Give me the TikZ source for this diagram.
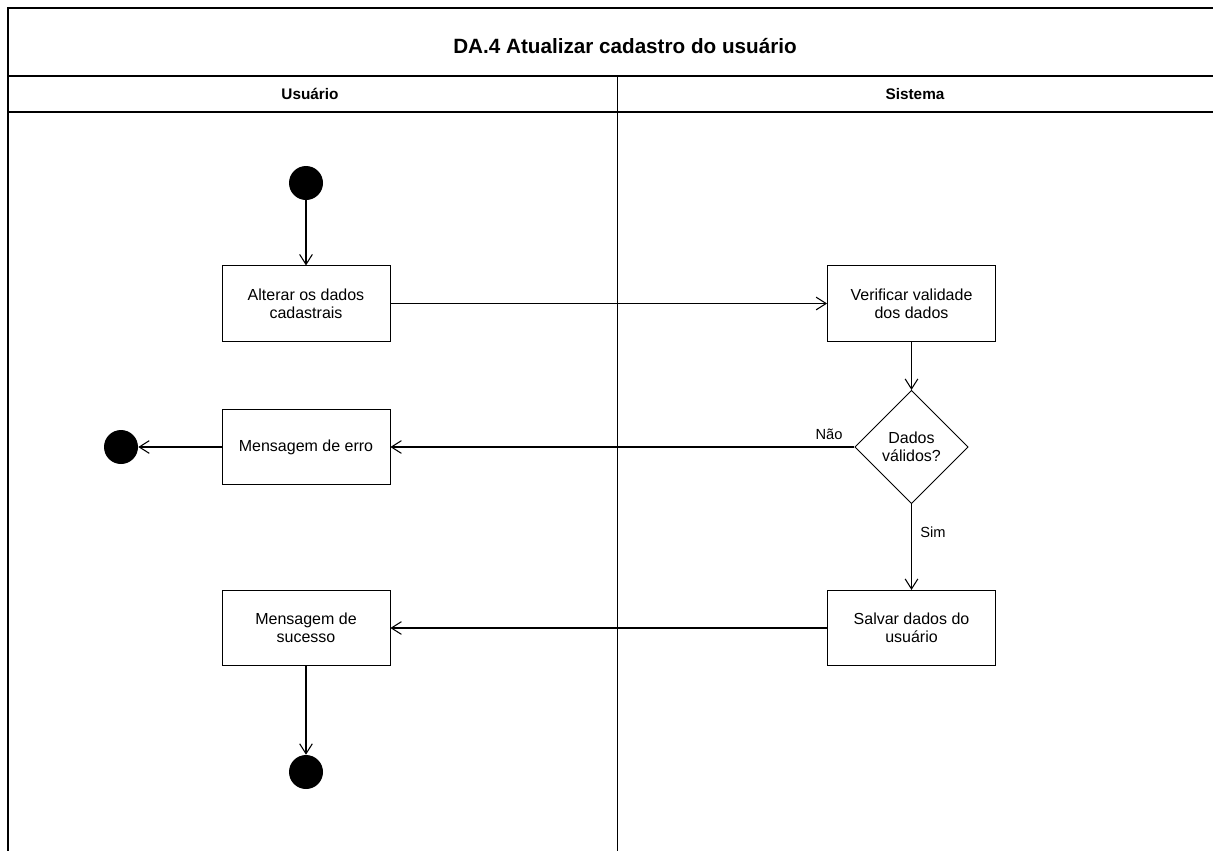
\documentclass[tikz,border=0pt]{standalone}
\usepackage{fontspec}
\setmainfont{Liberation Sans}
\usetikzlibrary{shapes.geometric,arrows.meta}

\begin{document}
\begin{tikzpicture}[x=0.75pt,y=0.75pt,yscale=-1,xscale=1,
	acao/.style={draw,line width=0.6pt,minimum width=126pt,minimum height=56.5pt,inner sep=1pt,align=center,font=\fontsize{12}{13.5}\selectfont},
	decisao/.style={draw,diamond,line width=0.6pt,minimum size=85pt,inner sep=0pt,align=center,font=\fontsize{12}{13.5}\selectfont},
	ponto/.style={circle,fill=black,minimum size=25.5pt,inner sep=0pt},
	fluxo/.style={line width=0.8pt,-{Straight Barb[length=7.5pt,width=9.5pt]}},
	rotulo/.style={inner sep=0.75pt,font=\fontsize{11}{13}\selectfont}]
\useasboundingbox (0,0) rectangle (1213,851);

%Shape: Frame
\draw [line width=0.8pt] (1213,8) -- (8,8) -- (8,851) ;
\draw [line width=0.8pt] (8,76) -- (1213,76) ;
\draw [line width=0.8pt] (8,112) -- (1213,112) ;
\draw [line width=0.6pt] (617,76) -- (617,851) ;

% Text Node
\node (titulo) at (625,46) [font=\fontsize{15.5}{18}\selectfont\bfseries] {DA.4 Atualizar cadastro do usuário};
\node (usuario) at (310,94) [font=\fontsize{11.5}{13}\selectfont\bfseries] {Usuário};
\node (sistema) at (915,94) [font=\fontsize{11.5}{13}\selectfont\bfseries] {Sistema};

%Shape: Circle
\node (inicio) at (306,183) [ponto] {};
\node (fimerro) at (121,447) [ponto] {};
\node (fim) at (306,772) [ponto] {};

%Shape: Rectangle
\node (alterar) at (306,303.5) [acao] {Alterar os dados\\cadastrais};
\node (verificar) at (911.5,303.5) [acao] {Verificar validade\\dos dados};
\node (erro) at (306,447) [acao] {Mensagem de erro};
\node (salvar) at (911.5,628) [acao] {Salvar dados do\\usuário};
\node (sucesso) at (306,628) [acao] {Mensagem de\\sucesso};

%Shape: Diamond
\node (validos) at (911.5,447) [decisao] {Dados\\válidos?};

%Straight Lines
\draw [fluxo] (inicio) -- (alterar) ;
\draw [fluxo] (alterar) -- (verificar) ;
\draw [fluxo] (verificar) -- (validos) ;
\draw [fluxo] (validos) -- (erro) ;
\draw [fluxo] (erro) -- (fimerro) ;
\draw [fluxo] (validos) -- (salvar) ;
\draw [fluxo] (salvar) -- (sucesso) ;
\draw [fluxo] (sucesso) -- (fim) ;

% Text Node
\node (nao) at (829,434) [rotulo] {Não};
\node (sim) at (933,532) [rotulo] {Sim};
\end{tikzpicture}
\end{document}
